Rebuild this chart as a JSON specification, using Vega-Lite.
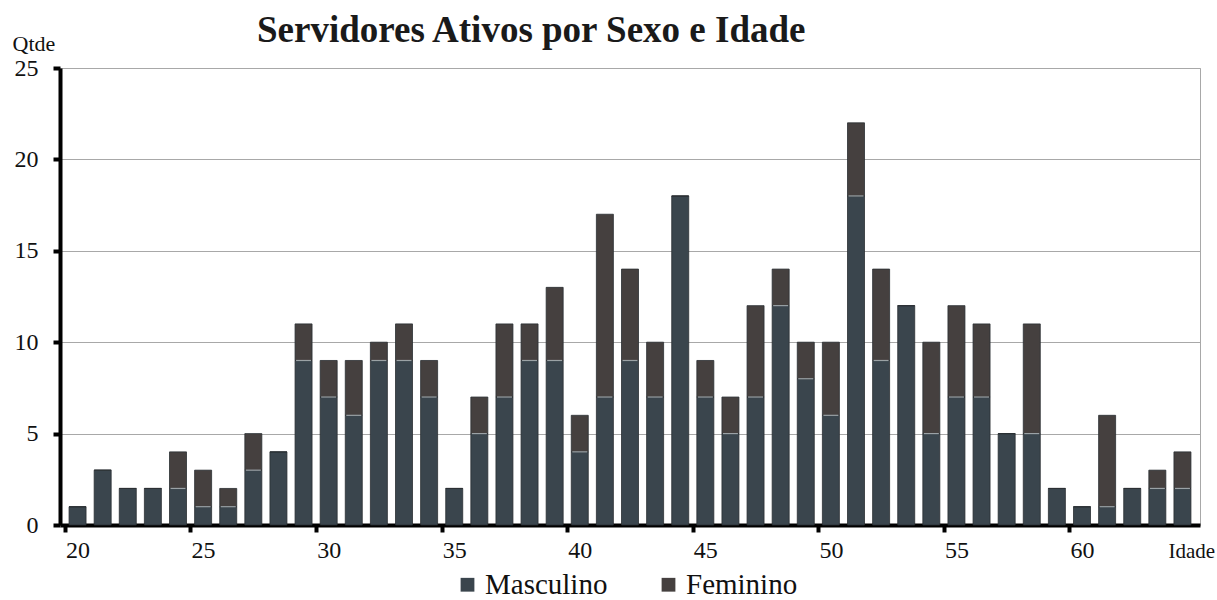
{
  "$schema": "https://vega.github.io/schema/vega-lite/v6.json",
  "width": 1140,
  "height": 457,
  "autosize": "none",
  "padding": {"left": 60, "top": 68, "right": 17, "bottom": 75},
  "background": "white",
  "config": {
    "font": "Liberation Serif",
    "axis": {"labelFont": "Liberation Serif", "titleFont": "Liberation Serif"},
    "legend": {"labelFont": "Liberation Serif", "titleFont": "Liberation Serif"},
    "view": {"stroke": "#a8a8a8", "strokeWidth": 1}
  },
  "title": {
    "text": "Servidores Ativos por Sexo e Idade",
    "font": "Liberation Serif",
    "fontSize": 37,
    "fontWeight": "bold",
    "color": "#1a1a1a",
    "anchor": "start",
    "frame": "group",
    "dx": 197,
    "offset": -18
  },
  "data": {
    "values": [
      {"idade": 20, "Masculino": 1, "Feminino": 0},
      {"idade": 21, "Masculino": 3, "Feminino": 0},
      {"idade": 22, "Masculino": 2, "Feminino": 0},
      {"idade": 23, "Masculino": 2, "Feminino": 0},
      {"idade": 24, "Masculino": 2, "Feminino": 2},
      {"idade": 25, "Masculino": 1, "Feminino": 2},
      {"idade": 26, "Masculino": 1, "Feminino": 1},
      {"idade": 27, "Masculino": 3, "Feminino": 2},
      {"idade": 28, "Masculino": 4, "Feminino": 0},
      {"idade": 29, "Masculino": 9, "Feminino": 2},
      {"idade": 30, "Masculino": 7, "Feminino": 2},
      {"idade": 31, "Masculino": 6, "Feminino": 3},
      {"idade": 32, "Masculino": 9, "Feminino": 1},
      {"idade": 33, "Masculino": 9, "Feminino": 2},
      {"idade": 34, "Masculino": 7, "Feminino": 2},
      {"idade": 35, "Masculino": 2, "Feminino": 0},
      {"idade": 36, "Masculino": 5, "Feminino": 2},
      {"idade": 37, "Masculino": 7, "Feminino": 4},
      {"idade": 38, "Masculino": 9, "Feminino": 2},
      {"idade": 39, "Masculino": 9, "Feminino": 4},
      {"idade": 40, "Masculino": 4, "Feminino": 2},
      {"idade": 41, "Masculino": 7, "Feminino": 10},
      {"idade": 42, "Masculino": 9, "Feminino": 5},
      {"idade": 43, "Masculino": 7, "Feminino": 3},
      {"idade": 44, "Masculino": 18, "Feminino": 0},
      {"idade": 45, "Masculino": 7, "Feminino": 2},
      {"idade": 46, "Masculino": 5, "Feminino": 2},
      {"idade": 47, "Masculino": 7, "Feminino": 5},
      {"idade": 48, "Masculino": 12, "Feminino": 2},
      {"idade": 49, "Masculino": 8, "Feminino": 2},
      {"idade": 50, "Masculino": 6, "Feminino": 4},
      {"idade": 51, "Masculino": 18, "Feminino": 4},
      {"idade": 52, "Masculino": 9, "Feminino": 5},
      {"idade": 53, "Masculino": 12, "Feminino": 0},
      {"idade": 54, "Masculino": 5, "Feminino": 5},
      {"idade": 55, "Masculino": 7, "Feminino": 5},
      {"idade": 56, "Masculino": 7, "Feminino": 4},
      {"idade": 57, "Masculino": 5, "Feminino": 0},
      {"idade": 58, "Masculino": 5, "Feminino": 6},
      {"idade": 59, "Masculino": 2, "Feminino": 0},
      {"idade": 60, "Masculino": 1, "Feminino": 0},
      {"idade": 61, "Masculino": 1, "Feminino": 5},
      {"idade": 62, "Masculino": 2, "Feminino": 0},
      {"idade": 63, "Masculino": 2, "Feminino": 1},
      {"idade": 64, "Masculino": 2, "Feminino": 2}
    ]
  },
  "layer": [
    {
      "transform": [{"fold": ["Masculino", "Feminino"], "as": ["Sexo", "Qtde"]}],
      "mark": {"type": "bar", "width": 17, "stroke": "#2a2e32", "strokeWidth": 0.8},
      "encoding": {
        "x": {
          "field": "idade",
          "type": "quantitative",
          "scale": {"domain": [19.5, 64.5], "nice": false, "zero": false},
          "axis": {
            "values": [20, 25, 30, 35, 40, 45, 50, 55, 60, 65],
            "labelExpr": "datum.value > 62 ? '' : datum.label",
            "tickOffset": -12.67,
            "labelOffset": 12.67,
            "grid": false,
            "domainColor": "#000000",
            "domainWidth": 4,
            "tickColor": "#000000",
            "tickWidth": 4,
            "tickSize": 7,
            "labelFont": "Liberation Serif",
            "labelFontSize": 24,
            "labelColor": "#111111",
            "labelPadding": 6,
            "labelFlush": false,
            "labelOverlap": false,
            "title": "Idade",
            "titleFont": "Liberation Serif",
            "titleFontSize": 21,
            "titleFontWeight": "normal",
            "titleColor": "#111111",
            "titleAlign": "left",
            "titleBaseline": "top",
            "titleAnchor": "start",
            "titleX": 1108,
            "titleY": 15
          }
        },
        "y": {
          "field": "Qtde",
          "type": "quantitative",
          "stack": "zero",
          "scale": {"domain": [0, 25], "nice": false},
          "axis": {
            "values": [0, 5, 10, 15, 20, 25],
            "grid": true,
            "gridColor": "#a8a8a8",
            "gridWidth": 1,
            "domainColor": "#000000",
            "domainWidth": 4,
            "tickColor": "#000000",
            "tickWidth": 4,
            "tickSize": 7,
            "labelFont": "Liberation Serif",
            "labelFontSize": 24,
            "labelColor": "#111111",
            "labelPadding": 15,
            "title": "Qtde",
            "titleFont": "Liberation Serif",
            "titleAngle": 0,
            "titleFontSize": 22,
            "titleFontWeight": "normal",
            "titleColor": "#111111",
            "titleAlign": "left",
            "titleBaseline": "alphabetic",
            "titleX": -48,
            "titleY": -18
          }
        },
        "color": {
          "field": "Sexo",
          "type": "nominal",
          "scale": {"domain": ["Masculino", "Feminino"], "range": ["#3a454d", "#45403f"]},
          "legend": {
            "orient": "none",
            "legendX": 393,
            "legendY": 502,
            "direction": "horizontal",
            "title": null,
            "symbolType": "square",
            "symbolSize": 190,
            "symbolStrokeWidth": 0,
            "labelFont": "Liberation Serif",
            "labelFontSize": 29,
            "labelColor": "#111111",
            "labelOffset": 3,
            "columnPadding": 46
          }
        },
        "order": {"field": "Sexo", "sort": "descending"}
      }
    },
    {
      "transform": [{"filter": "datum.Masculino > 0 && datum.Feminino > 0"}],
      "mark": {"type": "tick", "orient": "horizontal", "color": "#c9d1d5", "thickness": 1.2, "size": 15},
      "encoding": {
        "x": {"field": "idade", "type": "quantitative"},
        "y": {"field": "Masculino", "type": "quantitative"}
      }
    }
  ]
}
